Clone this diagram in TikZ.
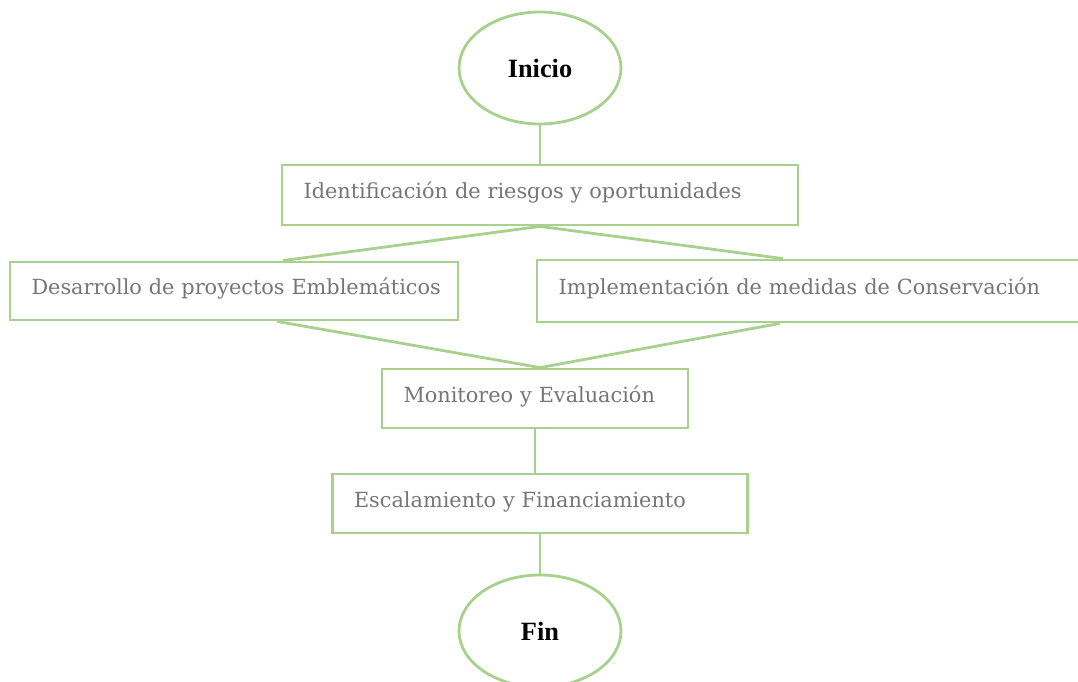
\documentclass[tikz,border=0pt]{standalone}
\usepackage{fontspec}
\setmainfont{DejaVu Serif}
\newfontfamily\termfont{Liberation Serif}
\usepackage{xcolor}
\usepackage{tikz}
\usetikzlibrary{positioning,shapes.geometric}
\definecolor{lineGreen}{HTML}{A9D18E}
\definecolor{textGrey}{HTML}{767676}

\begin{document}
\begin{tikzpicture}[
  x=0.02cm, y=-0.02cm,
  box/.style={draw=lineGreen, line width=1.6pt, fill=white, align=left,
              inner xsep=0.43cm, inner ysep=0pt, text=textGrey,
              text height=0.3cm, text depth=0.16cm,
              font=\fontsize{11.85}{15}\selectfont},
  term/.style={ellipse, draw=lineGreen, line width=1.6pt, fill=white,
               minimum width=3.24cm, minimum height=2.24cm, inner sep=0pt,
               font=\termfont\bfseries\fontsize{15}{17}\selectfont},
  link/.style={draw=lineGreen, line width=1.6pt},
]
\clip (0,0) rectangle (1078,682);

% ---- Inicio ----
\node[term] (inicio) at (540,68) {Inicio};

% ---- Identificacion ----
\node[box, text width=9.46cm, minimum height=1.2cm] (ident) at (540,195)
  {Identificación de riesgos y oportunidades};

% ---- Dos ramas ----
\node[box, text width=8.10cm, minimum height=1.16cm] (desa) at (234,291)
  {\mbox{Desarrollo de proyectos Emblemáticos}};
\node[box, text width=10.24cm, minimum height=1.24cm] (impl) at (814.5,291)
  {Implementación de medidas de Conservación};

% ---- Monitoreo, escalamiento ----
\node[box, text width=5.26cm, minimum height=1.18cm] (moni) at (535,398.5)
  {Monitoreo y Evaluación};
\node[box, text width=7.44cm, minimum height=1.18cm] (esca) at (540,503.5)
  {Escalamiento y Financiamiento};

% ---- Fin ----
\node[term] (fin) at (540,631) {Fin};

% ---- Conectores ----
\draw[link] (inicio.south) -- (ident.north);
\draw[link] (ident.south) -- ([xshift=0.98cm]desa.north);
\draw[link] (ident.south) -- ([xshift=-0.63cm]impl.north);
\draw[link] ([xshift=0.86cm]desa.south) -- ([xshift=0.1cm]moni.north);
\draw[link] ([xshift=-0.69cm]impl.south) -- ([xshift=0.1cm]moni.north);
\draw[link] (moni.south) -- (moni.south |- esca.north);
\draw[link] (esca.south) -- (fin.north);

\end{tikzpicture}
\end{document}
